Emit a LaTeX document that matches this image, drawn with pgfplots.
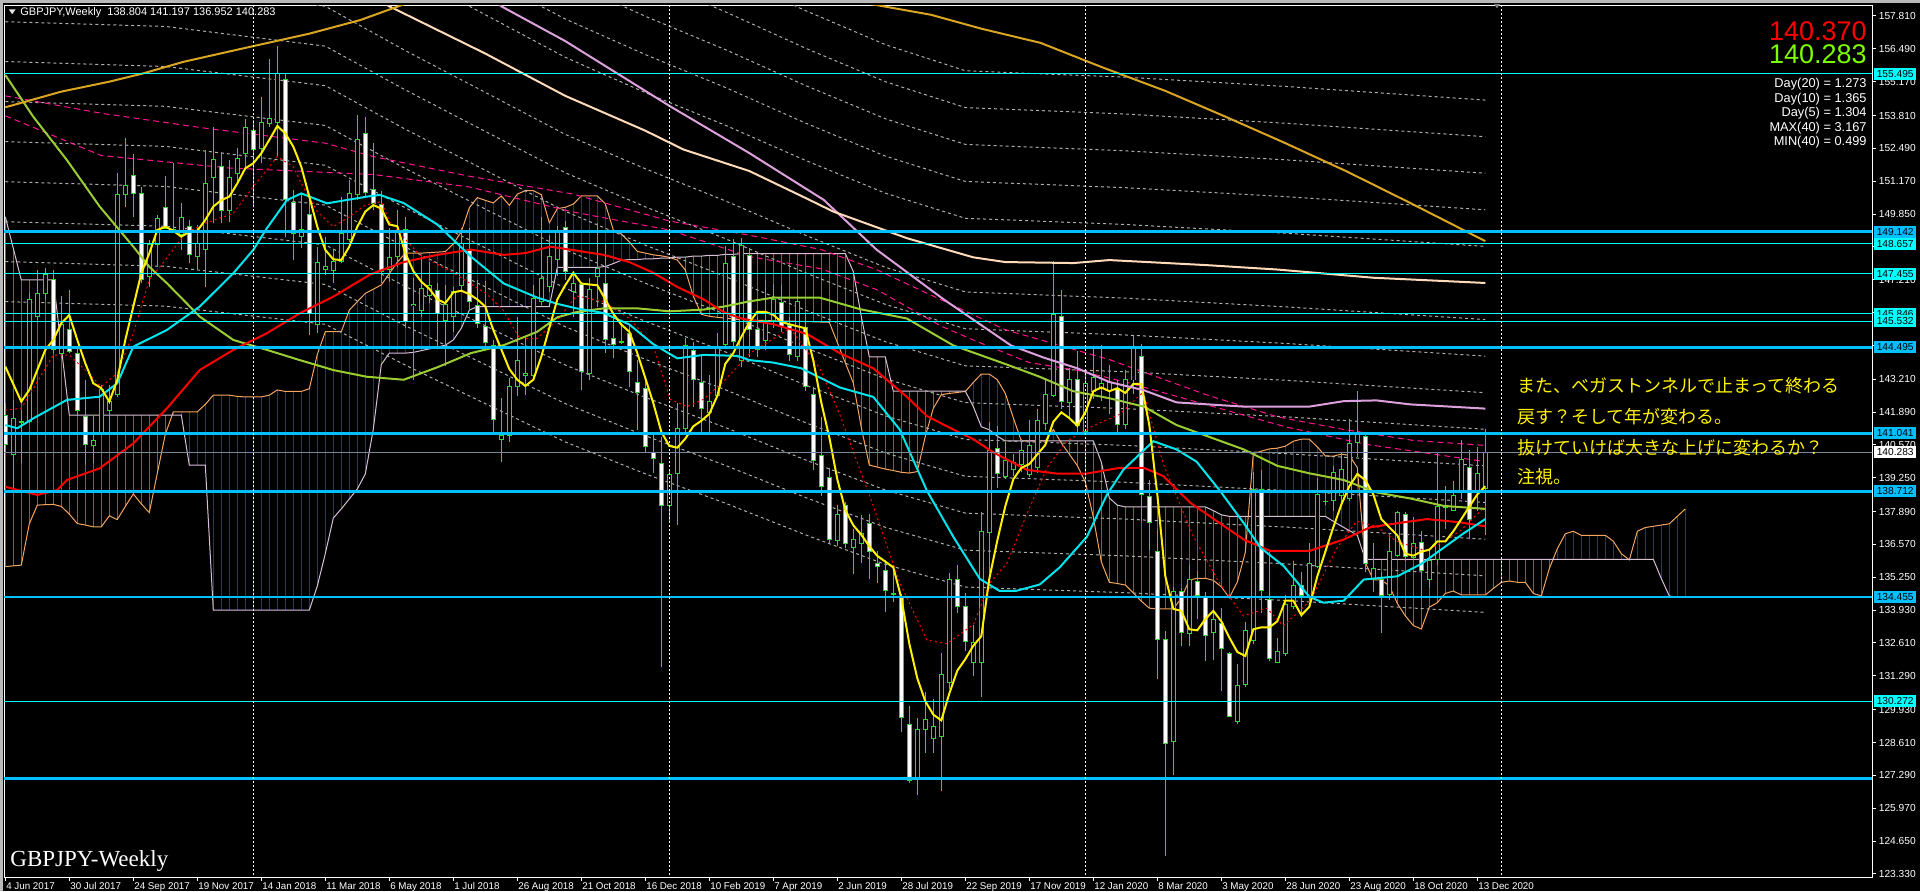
\documentclass[border=0pt]{standalone}
\usepackage{fontspec}
\setmainfont{Liberation Sans}
\newfontfamily\jpfont{Noto Sans CJK JP}
\newfontfamily\serfont{Liberation Serif}
\usepackage{pgfplots}
\pgfplotsset{compat=1.18}
\usepackage{pgfplotstable}

\definecolor{cgreen}{RGB}{40,220,40}
\definecolor{dsb}{RGB}{0,191,255}
\definecolor{cyanl}{RGB}{0,255,255}
\definecolor{cyanma}{RGB}{0,229,238}
\definecolor{ygreen}{RGB}{154,205,50}
\definecolor{gold}{RGB}{218,165,32}
\definecolor{bisq}{RGB}{255,218,185}
\definecolor{plumc}{RGB}{221,160,221}
\definecolor{dpink}{RGB}{255,20,147}
\definecolor{sandy}{RGB}{244,164,96}
\definecolor{thist}{RGB}{216,191,216}
\definecolor{hred}{RGB}{165,72,72}
\definecolor{hblue}{RGB}{45,45,145}
\definecolor{dgrey}{RGB}{175,175,175}
\definecolor{slate}{RGB}{119,136,153}
\definecolor{lgreen}{RGB}{124,252,0}

\pgfplotstableread{
i o h l c
0 141.77 142.24 140.23 140.57
1 140.17 142.38 138.62 141.64
2 141.48 141.97 139.83 141.52
3 141.51 146.66 141.44 146.42
4 145.72 147.60 145.59 146.66
5 146.64 147.67 146.40 147.44
6 147.23 147.60 144.25 144.39
7 144.25 146.56 144.05 145.43
8 145.22 146.80 144.25 144.32
9 144.25 144.45 141.77 141.97
10 141.73 143.18 139.76 140.57
11 140.53 141.77 139.83 140.74
12 141.04 142.98 140.97 142.81
13 141.97 142.98 141.10 142.31
14 142.58 151.49 142.51 150.62
15 150.62 152.89 150.15 150.98
16 151.38 152.25 149.74 150.66
17 150.66 150.95 147.07 147.20
18 147.33 148.81 146.93 148.61
19 148.61 149.81 147.73 149.68
20 150.12 151.38 149.24 149.28
21 149.24 151.91 149.07 149.14
22 149.01 150.28 148.41 149.72
23 149.34 149.61 147.87 148.24
24 148.16 149.41 147.60 148.65
25 148.41 152.42 146.93 151.08
26 151.33 153.36 149.48 152.05
27 151.75 152.36 149.48 150.01
28 150.01 152.02 149.54 151.33
29 151.46 152.49 151.08 152.09
30 152.29 153.66 151.75 153.34
31 153.20 153.63 150.15 152.45
32 152.49 154.54 151.89 153.52
33 153.50 156.07 153.36 153.70
34 153.52 156.60 152.16 155.51
35 155.26 155.51 148.94 150.44
36 150.31 150.82 148.00 149.05
37 148.94 150.68 148.47 149.24
38 149.84 150.41 144.99 145.86
39 145.43 148.54 145.06 147.90
40 147.63 148.94 147.40 147.76
41 147.60 148.41 147.07 147.94
42 147.94 150.55 147.87 149.07
43 148.83 151.22 148.74 150.68
44 150.62 153.83 150.41 152.83
45 153.09 153.76 150.55 150.71
46 150.84 152.69 150.01 150.28
47 150.22 150.79 147.06 147.56
48 147.63 149.29 147.13 148.11
49 148.14 150.00 147.71 149.17
50 149.21 149.72 145.27 145.55
51 146.17 147.28 143.19 146.22
52 145.98 148.14 145.70 146.85
53 146.59 147.92 146.27 146.96
54 146.77 147.06 144.41 145.87
55 145.58 146.99 143.76 146.20
56 145.73 146.92 145.12 146.73
57 146.99 149.29 146.70 148.68
58 148.37 149.29 145.98 146.34
59 146.16 147.20 145.27 145.44
60 145.32 147.16 144.41 144.67
61 144.58 144.77 140.96 141.61
62 140.78 142.47 139.89 140.93
63 140.93 143.26 140.68 142.90
64 142.90 145.70 142.54 143.95
65 143.36 144.91 142.57 143.43
66 143.37 146.99 143.26 146.44
67 146.34 149.72 146.20 147.25
68 146.92 149.00 146.70 148.14
69 148.02 149.36 147.35 149.11
70 149.31 149.57 147.20 147.56
71 146.73 147.56 145.70 147.06
72 147.02 147.13 142.76 143.52
73 143.43 147.28 143.19 146.82
74 147.35 149.50 146.13 147.68
75 147.06 148.68 144.26 144.81
76 144.84 145.91 144.05 144.62
77 144.72 145.48 144.62 144.70
78 145.05 145.41 142.90 143.52
79 143.09 143.98 141.18 142.66
80 142.83 143.19 140.24 140.50
81 140.27 140.96 139.45 140.03
82 139.81 140.89 131.64 138.12
83 138.12 139.53 137.45 139.38
84 139.41 142.25 137.37 141.25
85 141.22 144.87 141.10 144.55
86 144.38 144.69 142.11 143.19
87 143.06 144.19 141.10 142.04
88 141.89 143.37 141.03 142.33
89 142.54 145.05 142.47 144.48
90 144.62 148.57 144.41 147.88
91 148.14 148.85 144.41 144.72
92 143.95 148.88 143.69 148.60
93 148.20 148.50 144.11 145.19
94 145.22 145.72 144.11 144.39
95 144.76 147.19 144.39 145.57
96 145.57 147.03 145.27 146.42
97 146.29 147.00 145.11 145.34
98 145.37 145.72 143.96 144.19
99 144.11 146.57 143.96 146.34
100 145.31 145.88 142.73 142.91
101 142.60 142.88 139.57 139.93
102 140.14 141.68 138.50 138.91
103 139.27 139.65 136.57 136.76
104 136.73 138.14 136.50 137.78
105 138.14 138.27 136.42 136.60
106 136.45 137.19 135.38 136.76
107 136.60 137.77 135.84 137.00
108 137.42 137.80 135.19 136.30
109 135.81 136.30 135.04 135.68
110 135.53 135.96 133.84 134.73
111 134.60 135.73 134.27 134.57
112 134.45 134.58 129.04 129.62
113 129.35 130.09 126.97 127.07
114 127.17 129.58 126.50 129.12
115 129.12 130.66 128.19 129.53
116 128.76 130.35 128.19 129.27
117 128.86 132.19 126.66 131.35
118 131.01 135.42 130.76 135.16
119 135.16 135.73 133.81 134.08
120 134.08 134.61 132.30 132.65
121 131.84 133.35 131.27 132.61
122 131.84 137.88 130.43 137.11
123 137.07 141.50 135.42 140.34
124 140.42 141.34 138.85 139.42
125 139.31 140.70 139.22 139.93
126 139.57 140.19 139.34 139.88
127 139.77 140.80 139.50 140.34
128 139.37 141.57 139.27 140.54
129 139.65 142.03 139.46 141.57
130 141.42 143.26 141.19 142.60
131 142.57 147.95 142.50 145.80
132 145.72 146.80 142.03 142.30
133 142.27 143.65 141.65 143.22
134 143.22 144.34 141.00 141.34
135 141.11 143.57 141.03 143.03
136 142.73 144.54 142.42 143.27
137 142.85 144.57 142.34 143.03
138 142.76 143.80 141.80 143.06
139 142.85 143.18 140.96 141.41
140 141.41 143.59 141.21 143.21
141 143.18 144.96 142.61 144.53
142 144.13 144.63 137.51 138.58
143 138.50 139.16 136.36 137.46
144 136.28 137.18 131.18 132.75
145 132.75 133.08 124.04 128.59
146 128.64 134.88 127.32 134.67
147 134.67 134.80 132.47 133.03
148 132.99 135.75 132.50 135.16
149 135.10 135.49 133.57 134.50
150 134.47 134.67 131.88 132.91
151 133.03 135.46 131.93 133.57
152 133.40 134.01 130.69 132.37
153 132.20 132.25 129.62 129.67
154 129.46 131.76 129.35 130.89
155 130.94 133.45 130.86 133.12
156 132.70 139.48 132.58 138.78
157 138.78 139.57 133.81 134.72
158 134.34 136.31 131.88 131.97
159 131.84 132.83 131.81 132.25
160 132.20 134.55 132.09 134.14
161 134.06 135.92 133.98 134.93
162 134.93 135.46 133.65 134.50
163 134.47 136.64 134.31 135.79
164 135.70 139.24 135.62 138.58
165 138.30 138.74 138.17 138.31
166 138.33 139.73 137.92 139.48
167 138.55 140.30 138.25 139.60
168 138.42 141.62 138.33 140.63
169 140.68 142.72 140.09 141.05
170 140.91 141.01 135.46 135.82
171 135.16 136.61 134.67 135.62
172 135.16 135.46 133.03 134.50
173 134.55 137.02 134.34 136.28
174 136.12 137.92 136.08 137.84
175 137.76 137.89 135.92 136.08
176 136.03 137.68 135.95 136.61
177 136.64 137.10 134.39 135.54
178 135.16 136.36 134.83 135.92
179 135.98 140.30 135.75 138.09
180 138.05 138.91 137.18 138.12
181 137.95 139.11 137.92 138.53
182 138.71 140.75 138.38 139.98
183 139.65 140.35 136.77 137.59
184 138.74 140.47 137.92 139.44
185 138.80 141.20 136.95 140.28
}\candles

% ichimoku: a = senkou span A (sandy), b = senkou span B (thistle)
\pgfplotstableread{
i a b
0 135.68 149.74
1 135.71 148.47
2 135.74 147.20
3 137.40 147.20
4 138.15 147.20
5 138.17 147.20
6 138.18 147.20
7 138.10 144.50
8 137.79 141.77
9 137.41 141.77
10 137.35 141.77
11 137.28 141.77
12 137.28 141.77
13 137.72 141.77
14 137.57 141.77
15 138.10 141.77
16 138.60 141.77
17 138.20 141.77
18 137.85 141.77
19 139.43 141.77
20 141.00 141.77
21 141.90 141.77
22 141.90 141.77
23 141.90 139.76
24 141.90 139.76
25 142.20 139.76
26 142.57 133.93
27 142.57 133.93
28 142.57 133.93
29 142.52 133.93
30 142.50 133.93
31 142.50 133.93
32 142.50 133.93
33 142.57 133.93
34 142.78 133.93
35 142.72 133.93
36 142.72 133.93
37 142.72 133.93
38 142.83 133.93
39 144.21 134.90
40 145.12 136.20
41 145.12 137.63
42 145.12 138.00
43 145.99 138.40
44 146.33 138.80
45 146.66 139.40
46 146.83 141.20
47 147.00 143.80
48 147.46 144.26
49 147.91 144.26
50 148.28 144.26
51 148.28 144.29
52 148.28 144.36
53 148.30 144.43
54 148.32 144.50
55 148.34 144.58
56 148.65 144.79
57 149.14 145.26
58 150.10 145.99
59 150.51 146.13
60 150.40 146.13
61 150.30 146.13
62 150.58 146.13
63 150.20 146.13
64 150.65 146.13
65 150.79 146.13
66 150.79 146.13
67 150.63 146.13
68 149.50 146.13
69 150.07 147.71
70 150.12 147.71
71 150.25 147.71
72 150.58 147.71
73 150.58 147.71
74 150.58 147.71
75 150.26 147.74
76 149.21 147.86
77 149.05 147.99
78 148.73 148.02
79 148.35 148.02
80 148.28 148.05
81 148.21 148.05
82 148.17 148.08
83 148.11 148.08
84 148.00 148.12
85 147.60 148.12
86 146.55 148.16
87 145.82 148.16
88 145.74 148.19
89 145.70 148.19
90 145.67 148.23
91 145.63 148.23
92 145.60 148.26
93 145.59 148.26
94 145.58 148.26
95 145.57 148.26
96 145.56 148.26
97 145.55 148.26
98 145.55 148.26
99 145.54 148.26
100 145.53 148.26
101 145.52 148.26
102 145.51 148.26
103 145.50 148.26
104 144.69 148.26
105 143.87 148.26
106 143.06 147.54
107 141.26 145.73
108 139.76 144.11
109 139.68 144.11
110 139.60 144.11
111 139.54 142.73
112 139.47 142.73
113 139.44 142.73
114 139.50 142.73
115 140.92 142.73
116 142.04 142.73
117 142.59 142.73
118 142.64 142.73
119 142.68 142.73
120 142.72 142.73
121 143.08 142.11
122 143.42 141.30
123 143.42 141.18
124 143.19 140.92
125 142.64 140.73
126 141.66 140.73
127 140.73 140.73
128 140.73 140.73
129 140.73 140.73
130 140.73 140.73
131 141.19 140.73
132 140.65 140.73
133 140.20 140.73
134 139.74 140.73
135 139.08 140.73
136 137.67 140.73
137 135.87 139.88
138 135.05 138.44
139 135.00 138.15
140 134.94 138.08
141 134.62 138.08
142 134.29 138.08
143 134.01 138.08
144 133.98 138.08
145 133.98 138.08
146 133.98 138.08
147 134.41 138.08
148 135.14 138.08
149 135.21 138.08
150 135.21 138.08
151 135.13 137.93
152 134.87 137.76
153 134.43 137.70
154 135.06 137.70
155 136.25 137.70
156 140.22 137.70
157 140.32 137.70
158 140.41 137.70
159 140.44 137.70
160 140.52 137.70
161 140.72 137.70
162 140.80 137.70
163 140.80 137.70
164 140.49 137.70
165 140.13 137.70
166 140.12 137.50
167 140.20 137.31
168 140.15 137.13
169 139.66 136.94
170 135.84 135.97
171 135.15 135.97
172 135.14 135.97
173 134.91 135.97
174 134.20 135.97
175 133.70 135.97
176 133.31 135.97
177 133.17 135.97
178 134.05 135.97
179 134.23 135.97
180 134.60 135.97
181 134.70 135.97
182 134.54 135.97
183 134.54 135.97
184 134.54 135.97
185 134.54 135.97
186 134.80 135.97
187 135.05 135.97
188 135.10 135.97
189 135.05 135.97
190 135.05 135.97
191 134.60 135.97
192 134.50 135.97
193 135.60 135.97
194 136.40 135.97
195 137.00 135.97
196 137.10 135.97
197 136.94 135.97
198 136.94 135.97
199 136.94 135.97
200 136.94 135.97
201 136.70 135.97
202 136.20 135.97
203 135.95 135.97
204 137.10 135.97
205 137.25 135.97
206 137.30 135.97
207 137.35 135.20
208 137.40 134.50
209 137.70 134.45
210 138.00 134.45
}\cloud

\begin{document}
\begin{tikzpicture}
\fill[black] (-2pt,-7pt) rectangle (958pt,438.5pt);
\fill[gray!55] (-2pt,-7pt) rectangle (-0.6pt,438.5pt);
\fill[gray!55] (-2pt,436.9pt) rectangle (958pt,438.5pt);
\begin{axis}[
  at={(0pt,0pt)}, anchor=south west,
  scale only axis, width=934pt, height=436pt,
  xmin=-0.1625, xmax=233.3375, ymin=123.204, ymax=158.252,
  axis line style={white, line width=0.5pt},
  tick style={white, line width=0.5pt},
  major tick length=2pt, tick align=outside,
  xtick pos=left, ytick pos=right, yticklabel pos=right,
  xtick={0,8,...,184},
  xticklabels={4 Jun 2017,30 Jul 2017,24 Sep 2017,19 Nov 2017,14 Jan 2018,11 Mar 2018,6 May 2018,1 Jul 2018,26 Aug 2018,21 Oct 2018,16 Dec 2018,10 Feb 2019,7 Apr 2019,2 Jun 2019,28 Jul 2019,22 Sep 2019,17 Nov 2019,12 Jan 2020,8 Mar 2020,3 May 2020,28 Jun 2020,23 Aug 2020,18 Oct 2020,13 Dec 2020},
  ytick={123.33,124.65,125.97,127.29,128.61,129.93,131.29,132.61,133.93,135.25,136.57,137.89,139.25,140.57,141.89,143.21,144.57,145.89,147.21,148.53,149.85,151.17,152.49,153.81,155.17,156.49,157.81},
  yticklabels={123.330,124.650,125.970,127.290,128.610,129.930,131.290,132.610,133.930,135.250,136.570,137.890,139.250,140.570,141.890,143.210,144.570,145.890,147.210,148.530,149.850,151.170,152.490,153.810,155.170,156.490,157.810},
  xticklabel style={font=\fontsize{4.9}{5.5}\selectfont, text=white, anchor=north west, inner sep=0pt, xshift=0.3pt, yshift=-0.6pt},
  yticklabel style={font=\fontsize{5.1}{5.6}\selectfont, text=white, anchor=west, inner sep=0pt, xshift=1.2pt},
  ln/.style={mark=none, line width=1pt},
  dl/.style={mark=none, draw=dgrey, line width=0.5pt, dash pattern=on 1.5pt off 1.5pt},
  pl/.style={mark=none, draw=dpink, line width=0.5pt, dash pattern=on 3pt off 2pt},
  bar/.style={draw=none, mark=none, forget plot,
    error bars/y dir=plus, error bars/y explicit, error bars/error mark=none},
]
% cloud hatching, one stroke per bar
\addplot[restrict expr to domain={\thisrow{a}-\thisrow{b}}{-100:-0.001}, bar,
  error bars/error bar style={draw=hred, solid, line width=0.5pt}]
  table[x=i, y expr={min(\thisrow{a},\thisrow{b})}, y error plus expr={abs(\thisrow{a}-\thisrow{b})}] {\cloud};
\addplot[restrict expr to domain={\thisrow{a}-\thisrow{b}}{0.001:100}, bar,
  error bars/error bar style={draw=hblue, solid, line width=0.5pt}]
  table[x=i, y expr={min(\thisrow{a},\thisrow{b})}, y error plus expr={abs(\thisrow{a}-\thisrow{b})}] {\cloud};
\addplot[mark=none, draw=sandy, line width=0.5pt] table[x=i, y=a] {\cloud};
\addplot[mark=none, draw=thist, line width=0.5pt] table[x=i, y=b] {\cloud};

% envelope lines (percent bands around the long average)
\addplot[dl] coordinates {(60,160.99)(70,159.24)(80,157.80)(90,156.46)(100,155.02)(110,153.68)(120,152.65)(140,152.39)(160,152.03)(185,151.49)};
\addplot[dl] coordinates {(70,160.78)(80,159.33)(90,157.98)(100,156.52)(110,155.17)(120,154.13)(140,153.87)(160,153.50)(185,152.96)};
\addplot[dl] coordinates {(80,160.86)(90,159.50)(100,158.03)(110,156.66)(120,155.61)(140,155.35)(160,154.98)(185,154.43)};
\addplot[dl] coordinates {(50,161.2)(60,159.37)(70,157.69)(80,156.26)(90,154.94)(100,153.51)(110,152.18)(120,151.16)(140,150.91)(160,150.55)(185,150.02)};
\addplot[dl] coordinates {(0,162.41)(20,162.21)(40,161.40)(50,159.58)(60,157.86)(70,156.15)(80,154.73)(90,153.42)(100,152.01)(110,150.69)(120,149.68)(140,149.43)(160,149.08)(185,148.55)};
\addplot[dl] coordinates {(0,159.19)(20,158.99)(40,158.20)(50,156.42)(60,154.74)(70,153.05)(80,151.67)(90,150.38)(100,149.00)(110,147.71)(120,146.72)(140,146.47)(160,146.12)(185,145.61)};
\addplot[dl] coordinates {(0,157.58)(20,157.39)(40,156.60)(50,154.84)(60,153.17)(70,151.51)(80,150.14)(90,148.86)(100,147.49)(110,146.22)(120,145.24)(140,144.99)(160,144.65)(185,144.14)};
\addplot[dl] coordinates {(0,155.98)(20,155.78)(40,155.01)(50,153.26)(60,151.61)(70,149.96)(80,148.60)(90,147.34)(100,145.99)(110,144.72)(120,143.75)(140,143.51)(160,143.17)(185,142.67)};
\addplot[dl] coordinates {(0,154.37)(20,154.18)(40,153.41)(50,151.68)(60,150.05)(70,148.42)(80,147.07)(90,145.82)(100,144.48)(110,143.23)(120,142.27)(140,142.03)(160,141.70)(185,141.20)};
\addplot[dl] coordinates {(0,152.76)(20,152.57)(40,151.81)(50,150.10)(60,148.49)(70,146.87)(80,145.54)(90,144.31)(100,142.98)(110,141.74)(120,140.79)(140,140.55)(160,140.22)(185,139.73)};
\addplot[dl] coordinates {(0,151.15)(20,150.96)(40,150.21)(50,148.52)(60,146.92)(70,145.32)(80,144.01)(90,142.79)(100,141.47)(110,140.25)(120,139.31)(140,139.07)(160,138.74)(185,138.26)};
\addplot[dl] coordinates {(0,149.54)(20,149.36)(40,148.61)(50,146.94)(60,145.36)(70,143.78)(80,142.48)(90,141.27)(100,139.97)(110,138.76)(120,137.83)(140,137.59)(160,137.27)(185,136.78)};
\addplot[dl] coordinates {(0,147.94)(20,147.75)(40,147.02)(50,145.36)(60,143.80)(70,142.23)(80,140.94)(90,139.75)(100,138.46)(110,137.26)(120,136.34)(140,136.11)(160,135.79)(185,135.31)};
\addplot[dl] coordinates {(0,146.33)(20,146.15)(40,145.42)(50,143.78)(60,142.23)(70,140.69)(80,139.41)(90,138.23)(100,136.96)(110,135.77)(120,134.86)(140,134.63)(160,134.32)(185,133.84)};
\addplot[pl] coordinates {(0,154.6)(12,153.9)(25,153.3)(40,152.7)(46,152.16)(58,151.37)(71,150.65)(83,149.57)(93,149.0)(102,148.42)(109,147.6)(117,146.4)(125,145.2)(138,144.0)(150,142.6)(159,141.7)(167,141.21)(176,140.75)(185,140.55)};
\addplot[pl] coordinates {(0,153.8)(12,152.2)(28,151.7)(46,151.44)(58,150.94)(71,149.93)(83,149.21)(93,148.14)(102,147.65)(109,146.8)(117,145.34)(121.5,144.72)(128,143.88)(134,143.57)(140,143.1)(150,142.2)(160,141.3)(170,140.6)(185,139.9)};

% candles: wicks, body outlines, body fills
\addplot[bar, error bars/error bar style={draw=cgreen, solid, line width=0.5pt}]
  table[x=i, y=l, y error plus expr=\thisrow{h}-\thisrow{l}] {\candles};
\addplot[restrict expr to domain={\thisrow{c}-\thisrow{o}}{0:100}, bar,
  error bars/error bar style={draw=cgreen, solid, line width=2.5pt}]
  table[x=i, y expr=\thisrow{o}-0.02, y error plus expr=\thisrow{c}-\thisrow{o}+0.04] {\candles};
\addplot[restrict expr to domain={\thisrow{c}-\thisrow{o}}{-100:-0.0001}, bar,
  error bars/error bar style={draw=cgreen, solid, line width=2.5pt}]
  table[x=i, y expr=\thisrow{c}-0.02, y error plus expr=\thisrow{o}-\thisrow{c}+0.04] {\candles};
\addplot[restrict expr to domain={\thisrow{c}-\thisrow{o}}{0.05:100}, bar,
  error bars/error bar style={draw=black, solid, line width=1.5pt}]
  table[x=i, y expr=\thisrow{o}+0.02, y error plus expr=\thisrow{c}-\thisrow{o}-0.04] {\candles};
\addplot[restrict expr to domain={\thisrow{c}-\thisrow{o}}{-100:-0.05}, bar,
  error bars/error bar style={draw=white, solid, line width=1.5pt}]
  table[x=i, y expr=\thisrow{c}+0.02, y error plus expr=\thisrow{o}-\thisrow{c}-0.04] {\candles};

% moving averages
\addplot[mark=none, draw=red, line width=0.5pt, dash pattern=on 1pt off 1.5pt] coordinates {
(0,141.97)(2,142.04)(6,144.18)(8,144.18)(10,143.58)(12,142.91)(14,143.45)(16,145.06)(18,147.20)(20,148.0)(22.5,149.07)(25,149.48)(28.5,149.88)(31,150.95)(33,151.75)(34,152.16)(36,151.75)(37,151.08)(39,149.95)(41,149.34)(43,149.74)(45,150.21)(47,150.35)(48.1,149.50)(51.8,148.21)(56,147.49)(60.2,146.63)(62.25,145.98)(64.3,144.84)(66.4,144.84)(68.9,145.55)(71.4,146.56)(74.75,146.34)(78.1,145.63)(81,144.55)(83.1,142.40)(85.2,142.11)(87.25,142.40)(89.75,143.11)(93.1,144.26)(98.1,145.26)(101.8,143.65)(104.3,141.80)(108.5,138.11)(111.8,135.04)(115.2,132.73)(117.7,132.58)(121,133.35)(123.1,135.04)(125.2,135.81)(127.7,137.80)(130.2,139.65)(132.7,140.73)(136,141.34)(139.3,141.80)(142.25,142.7)(144.75,139.8)(148.5,136.9)(151.8,135.0)(154.75,133.7)(157.7,134.0)(159.75,133.3)(163.1,134.3)(166.4,136.4)(168.9,137.5)(171.4,137.3)(173.9,136.7)(177.7,136.3)(181.8,137.1)(185,138.1)};
\addplot[ln, draw=ygreen] coordinates {
(0,155.44)(3.5,153.76)(7.7,152.02)(11.8,150.15)(16,148.54)(18,147.73)(20.2,147.07)(24.3,145.73)(28.5,144.79)(32.7,144.39)(36.8,143.98)(41,143.58)(45.2,143.31)(49.8,143.19)(54,143.69)(58.2,144.26)(62.3,144.58)(66.5,145.12)(69,145.70)(71.4,145.91)(74.8,146.06)(79,146.06)(83,145.94)(87.3,146.01)(89.8,146.13)(93,146.34)(96,146.49)(101.8,146.49)(106.8,146.03)(112.7,145.65)(118.5,144.57)(125.2,143.80)(129.3,143.31)(133.5,142.73)(138.1,142.44)(142.3,142.11)(146.4,141.37)(150.6,140.88)(154.8,140.39)(159,139.73)(163,139.43)(167.3,139.16)(171.4,138.66)(175.6,138.42)(179.8,138.12)(185,138.0)};
\addplot[ln, draw=red] coordinates {
(0,138.89)(4,138.56)(6.5,138.76)(7.7,139.16)(11.8,139.63)(16,140.63)(20.2,142.04)(24.3,143.58)(28.5,144.39)(32.7,145.06)(36.8,145.86)(41,146.53)(45.6,147.42)(49.8,147.92)(54,148.21)(58.2,148.42)(62.3,148.21)(65,148.28)(68.1,148.54)(70.6,148.42)(74.8,148.21)(78,147.92)(81,147.49)(84,146.92)(87.3,146.42)(89.8,145.91)(92,145.65)(96,145.42)(100.2,145.03)(104.3,144.26)(108.5,143.65)(112.7,142.50)(115.2,141.73)(118.5,141.19)(121,140.80)(123.5,140.27)(127.7,139.57)(131.4,139.42)(135.2,139.42)(139.3,139.65)(142.3,139.65)(144.75,139.32)(148.1,138.25)(151.8,137.43)(154.8,136.77)(158.1,136.31)(163,136.31)(167.3,136.77)(170.6,137.26)(174.8,137.46)(177.7,137.59)(181.8,137.46)(185,137.30)};
\addplot[ln, draw=cyanma] coordinates {
(0,141.37)(1.5,141.24)(3.5,141.64)(7.7,142.38)(11.8,142.51)(14,143.05)(16,144.52)(20.2,145.19)(24.3,146.13)(28.5,147.47)(31,148.41)(32.7,149.28)(35.2,150.41)(37,150.68)(40.2,150.28)(45.2,150.55)(46.8,150.62)(49.8,150.29)(54,149.43)(58.2,148.14)(62.3,147.06)(66.5,146.49)(69,146.24)(71.4,146.06)(74.8,145.87)(78,145.41)(81,144.62)(84,144.05)(87.3,144.19)(91.5,144.15)(93,143.98)(96,143.88)(99.5,143.65)(104.3,142.88)(108.5,142.50)(111.8,141.19)(115.2,138.73)(118.5,136.88)(121.8,135.19)(124.3,134.70)(126.3,134.70)(129.3,134.96)(131.8,135.65)(135.2,136.88)(137.7,138.57)(139.75,139.57)(143.5,140.72)(146.4,140.39)(148.9,139.90)(151.8,138.74)(154.8,137.43)(156.9,136.44)(159.8,135.70)(163,134.47)(164.75,134.23)(167.3,134.31)(169.8,135.16)(174,135.29)(177,135.79)(179.8,136.44)(182.3,137.02)(185,137.59)};
\addplot[ln, draw=yellow] coordinates {
(0,143.72)(2,142.31)(3,142.78)(4,143.58)(5,144.39)(6,144.79)(7,145.46)(8,145.79)(9,144.79)(10,143.85)(11,143.05)(12,142.85)(13,142.31)(14,143.18)(15,144.79)(16,146.13)(17,147.47)(18,148.27)(19,149.21)(20,149.34)(21,149.18)(22,148.94)(23,149.14)(24,149.18)(25,149.61)(26,150.15)(27,150.41)(28,150.55)(29,151.08)(30,151.69)(31,151.89)(32,152.29)(33,152.83)(34,153.39)(35,153.09)(36,152.56)(37,151.75)(38,150.55)(39,149.34)(40,148.41)(41,148.03)(42,148.00)(43,148.54)(44,149.34)(45,149.95)(46,150.21)(47,150.07)(48,149.43)(49,149.36)(50,148.28)(51,147.56)(52,147.13)(53,146.85)(54,146.42)(55,146.27)(56,146.70)(57,146.77)(58,146.63)(59,146.42)(60,146.13)(61,145.19)(62,144.41)(63,143.62)(64,143.19)(65,142.94)(66,143.19)(67,144.12)(68,145.27)(69,146.42)(70,146.99)(71,147.49)(72,147.06)(73,147.02)(74,146.99)(75,146.42)(76,145.84)(77,145.41)(78,145.12)(79,144.26)(80,143.26)(81,142.25)(82,141.10)(83,140.53)(84,140.46)(85,140.82)(86,141.32)(87,141.54)(88,141.82)(89,142.54)(90,143.83)(91,144.26)(92,144.91)(93,145.5)(94,145.92)(95,145.92)(96,145.80)(97,145.52)(98,145.42)(99,145.34)(100,145.26)(101,143.96)(102,142.27)(103,140.88)(104,139.19)(105,137.96)(106,137.34)(107,136.96)(108,136.50)(109,136.11)(110,135.88)(111,135.65)(112,134.42)(113,132.58)(114,131.19)(115,130.27)(116,129.73)(117,129.50)(118,130.58)(119,131.50)(120,131.96)(121,132.50)(122,132.88)(123,135.19)(124,136.73)(125,138.11)(126,139.19)(127,139.65)(128,139.80)(129,140.19)(130,140.57)(131,141.50)(132,141.88)(133,141.65)(134,141.34)(135,141.88)(136,142.73)(137,142.88)(138,142.73)(139,142.85)(140,142.66)(141,143.02)(142,143.02)(143,141.37)(144,138.58)(145,135.29)(146,133.98)(147,133.90)(148,133.16)(149,133.12)(150,133.57)(151,133.90)(152,133.48)(153,132.83)(154,132.25)(155,132.09)(156,133.16)(157,133.24)(158,133.24)(159,133.48)(160,134.31)(161,134.31)(162,133.73)(163,134.06)(164,135.29)(165,136.28)(166,137.26)(167,138.17)(168,138.91)(169,139.40)(170,139.16)(171,138.58)(172,137.59)(173,137.26)(174,136.94)(175,136.20)(176,136.12)(177,136.28)(178,136.36)(179,136.69)(180,136.69)(181,137.10)(182,137.59)(183,138.09)(184,138.58)(185,138.91)};
\addplot[ln, draw=plumc] coordinates {
(58,159.2)(62,158.2)(70,156.8)(83,154.2)(93,152.3)(102.3,150.42)(108.9,148.42)(117.3,146.42)(125.7,144.57)(129.8,144.08)(134,143.65)(138,143.1)(142.3,142.77)(146.4,142.28)(154.8,142.11)(163,142.11)(167.3,142.33)(171.4,142.36)(175.6,142.2)(185,142.03)};
\addplot[ln, draw=bisq] coordinates {
(44,159.0)(48,158.2)(60,156.3)(70,154.6)(80,153.2)(84.8,152.44)(93,151.58)(100,150.5)(103.5,149.95)(112.7,148.88)(121,148.11)(125,147.92)(133.5,147.88)(138,148.0)(150,147.8)(159,147.62)(171,147.29)(185,147.08)};
\addplot[ln, draw=gold] coordinates {
(0,154.14)(7,154.77)(13,155.17)(17.2,155.5)(22.3,155.97)(31,156.6)(38,157.1)(44.4,157.65)(50,158.3)(60,159.0)(80,159.6)(100,159.0)(108,158.3)(115.7,157.86)(122,157.3)(129.4,156.73)(137.1,155.75)(145,154.8)(152.4,153.78)(160,152.7)(167.7,151.56)(175.4,150.33)(185,148.76)};

% price levels
\draw[cyanl, line width=0.5pt] (axis cs:-1,155.495) -- (axis cs:240,155.495);
\draw[cyanl, line width=0.5pt] (axis cs:-1,148.657) -- (axis cs:240,148.657);
\draw[cyanl, line width=0.5pt] (axis cs:-1,147.455) -- (axis cs:240,147.455);
\draw[cyanl, line width=0.5pt] (axis cs:-1,145.846) -- (axis cs:240,145.846);
\draw[cyanl, line width=0.5pt] (axis cs:-1,145.532) -- (axis cs:240,145.532);
\draw[cyanl, line width=0.5pt] (axis cs:-1,130.272) -- (axis cs:240,130.272);
\draw[slate, line width=0.5pt] (axis cs:-1,140.283) -- (axis cs:240,140.283);
\draw[dsb, line width=1.4pt] (axis cs:-1,149.142) -- (axis cs:240,149.142);
\draw[dsb, line width=1.4pt] (axis cs:-1,144.495) -- (axis cs:240,144.495);
\draw[dsb, line width=1.4pt] (axis cs:-1,141.041) -- (axis cs:240,141.041);
\draw[dsb, line width=1.4pt] (axis cs:-1,138.712) -- (axis cs:240,138.712);
\draw[dsb, line width=1.4pt] (axis cs:-1,134.455) -- (axis cs:240,134.455);
\draw[dsb, line width=1.4pt] (axis cs:-1,127.15) -- (axis cs:240,127.15);
% period separators
\draw[white, line width=0.5pt, dash pattern=on 1pt off 1pt] (axis cs:31.05,122) -- (axis cs:31.05,160);
\draw[white, line width=0.5pt, dash pattern=on 1pt off 1pt] (axis cs:83.05,122) -- (axis cs:83.05,160);
\draw[white, line width=0.5pt, dash pattern=on 1pt off 1pt] (axis cs:135.05,122) -- (axis cs:135.05,160);
\draw[white, line width=0.5pt, dash pattern=on 1pt off 1pt] (axis cs:187.05,122) -- (axis cs:187.05,160);
\end{axis}

% header text
\fill[white!80!gray] (2.4pt,433.8pt) -- (5.8pt,433.8pt) -- (4.1pt,431.4pt) -- cycle;
\node[anchor=west, inner sep=0pt, text=white, font=\fontsize{5.5}{6}\selectfont] at (8pt,432.3pt) {GBPJPY,Weekly\ \ 138.804 141.197 136.952 140.283};
\fill[gray] (745pt,436.5pt) -- (748pt,436.5pt) -- (746.5pt,434.3pt) -- cycle;

\node[anchor=east, inner sep=0pt, text=red, font=\fontsize{13.5}{14}\selectfont] at (931.5pt,423pt) {140.370};
\node[anchor=east, inner sep=0pt, text=lgreen, font=\fontsize{13.5}{14}\selectfont] at (931.5pt,411.5pt) {140.283};
\begin{scope}[every node/.style={anchor=east, inner sep=0pt, text=white, font=\fontsize{6.4}{7}\selectfont}]
\node at (931.5pt,396.5pt) {Day(20) = 1.273};
\node at (931.5pt,389pt) {Day(10) = 1.365};
\node at (931.5pt,382pt) {Day(5) = 1.304};
\node at (931.5pt,374.5pt) {MAX(40) = 3.167};
\node at (931.5pt,367.5pt) {MIN(40) = 0.499};
\end{scope}

% comment
\begin{scope}[every node/.style={anchor=west, inner sep=0pt, text=yellow, font=\jpfont\fontsize{9}{10}\selectfont}]
\node at (756.5pt,245.5pt) {また、ベガストンネルで止まって終わる};
\node at (756.5pt,230pt) {戻す？そして年が変わる。};
\node at (756.5pt,214.5pt) {抜けていけば大きな上げに変わるか？};
\node at (756.5pt,200pt) {注視。};
\end{scope}

\node[anchor=base west, inner sep=0pt, text=white, font=\serfont\fontsize{11.5}{12}\selectfont] at (3pt,5.5pt) {GBPJPY-Weekly};

% price level labels on the right scale
\begin{scope}[every node/.style={anchor=west, inner sep=0pt, minimum width=20.8pt, minimum height=6pt, text=black, font=\fontsize{5.1}{5.6}\selectfont}]
\node[fill=cyanl] at (935pt,401.70pt) {155.495};
\node[fill=dsb] at (935pt,322.67pt) {149.142};
\node[fill=cyanl] at (935pt,316.64pt) {148.657};
\node[fill=cyanl] at (935pt,301.69pt) {147.455};
\node[fill=cyanl] at (935pt,281.67pt) {145.846};
\node[fill=cyanl] at (935pt,277.76pt) {145.532};
\node[fill=dsb] at (935pt,264.86pt) {144.495};
\node[fill=dsb] at (935pt,221.89pt) {141.041};
\node[fill=white] at (935pt,212.47pt) {140.283};
\node[fill=dsb] at (935pt,192.92pt) {138.712};
\node[fill=dsb] at (935pt,139.96pt) {134.455};
\node[fill=cyanl] at (935pt,87.93pt) {130.272};
\end{scope}

\pgfresetboundingbox
\path (-2pt,-7pt) rectangle (958pt,438.5pt);
\end{tikzpicture}
\end{document}
